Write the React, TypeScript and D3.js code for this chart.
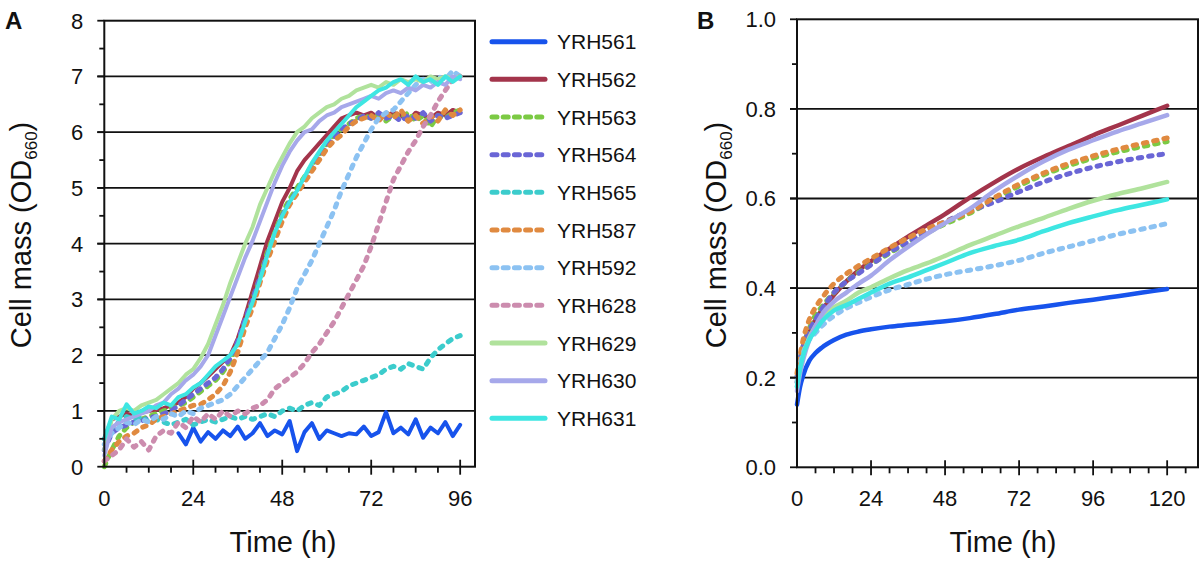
import React, { useEffect, useRef } from 'react';
import * as d3 from 'd3';

const FONT = "'Liberation Sans', Arial, sans-serif";

const strains = ['YRH561', 'YRH562', 'YRH563', 'YRH564', 'YRH565', 'YRH587', 'YRH592', 'YRH628', 'YRH629', 'YRH630', 'YRH631'];
const strainColors = ['#1753ec', '#a3344b', '#7cca44', '#6a66d6', '#3ccccc', '#e08a40', '#8cc2f2', '#cc8cae', '#b0e29c', '#a6a8ea', '#3ee6e2'];
const strainDashed = [false, false, true, true, true, true, true, true, false, false, false];

// panel A: 96 h culture, sampled every 2 h
const hoursA = [0, 2, 4, 6, 8, 10, 12, 14, 16, 18, 20, 22, 24, 26, 28, 30, 32, 34, 36, 38, 40, 42, 44, 46, 48,
  50, 52, 54, 56, 58, 60, 62, 64, 66, 68, 70, 72, 74, 76, 78, 80, 82, 84, 86, 88, 90, 92, 94, 96];

const odA561 = [null, null, null, null, null, null, null, null, null, null, 0.6, 0.4, 0.7, 0.45, 0.62, 0.5, 0.65, 0.55, 0.72, 0.5, 0.6, 0.78, 0.55, 0.65, 0.58,
  0.82, 0.28, 0.62, 0.78, 0.5, 0.65, 0.6, 0.55, 0.6, 0.58, 0.72, 0.55, 0.62, 0.98, 0.6, 0.7, 0.58, 0.85, 0.52, 0.7, 0.6, 0.8, 0.55, 0.75];
const odA562 = [0.5, 0.85, 0.9, 0.95, 0.92, 0.97, 1.0, 1.02, 1.05, 1.1, 1.15, 1.25, 1.4, 1.5, 1.62, 1.75, 1.88, 2.0, 2.3, 2.7, 3.15, 3.6, 4.05, 4.4, 4.75,
  5.0, 5.3, 5.5, 5.65, 5.8, 5.95, 6.1, 6.25, 6.3, 6.35, 6.3, 6.35, 6.25, 6.3, 6.35, 6.3, 6.2, 6.35, 6.3, 6.25, 6.35, 6.3, 6.4, 6.35];
const odA563 = [0.0, 0.3, 0.55, 0.7, 0.8, 0.85, 0.9, 0.95, 1.0, 1.05, 1.1, 1.15, 1.25, 1.35, 1.45, 1.55, 1.7, 1.9, 2.2, 2.6, 3.0, 3.4, 3.85, 4.2, 4.55,
  4.8, 5.0, 5.2, 5.4, 5.6, 5.8, 5.95, 6.05, 6.15, 6.25, 6.3, 6.25, 6.3, 6.2, 6.3, 6.25, 6.35, 6.2, 6.3, 6.1, 6.3, 6.25, 6.35, 6.4];
const odA564 = [0.3, 0.6, 0.7, 0.75, 0.8, 0.82, 0.88, 0.9, 0.95, 1.0, 1.1, 1.2, 1.3, 1.4, 1.5, 1.6, 1.75, 1.95, 2.25, 2.65, 3.0, 3.4, 3.8, 4.15, 4.5,
  4.75, 4.95, 5.15, 5.35, 5.55, 5.75, 5.9, 6.05, 6.15, 6.2, 6.3, 6.25, 6.35, 6.25, 6.3, 6.2, 6.3, 6.25, 6.35, 6.2, 6.3, 6.25, 6.3, 6.35];
const odA565 = [0.5, 0.7, 0.8, 0.9, 0.85, 0.9, 0.8, 0.85, 0.8, 0.75, 0.8, 0.85, 0.75, 0.8, 0.85, 0.8, 0.85, 0.9, 0.85, 0.9, 0.85, 0.9, 0.95, 0.9, 1.0,
  1.05, 1.0, 1.1, 1.15, 1.1, 1.25, 1.3, 1.35, 1.45, 1.5, 1.55, 1.6, 1.65, 1.75, 1.8, 1.75, 1.85, 1.8, 1.75, 1.95, 2.1, 2.2, 2.3, 2.35];
const odA587 = [0.1, 0.3, 0.45, 0.55, 0.6, 0.7, 0.75, 0.85, 0.9, 0.95, 1.0, 1.05, 1.1, 1.12, 1.2, 1.3, 1.45, 1.7, 2.05, 2.5, 2.85, 3.3, 3.7, 4.05, 4.4,
  4.7, 4.9, 5.1, 5.3, 5.5, 5.7, 5.85, 5.95, 6.1, 6.2, 6.25, 6.3, 6.2, 6.35, 6.25, 6.4, 6.2, 6.3, 6.15, 6.3, 6.2, 6.4, 6.3, 6.4];
const odA592 = [0.4, 0.6, 0.7, 0.8, 0.75, 0.85, 0.8, 0.9, 0.85, 0.95, 0.9, 1.0, 0.95, 1.05, 1.1, 1.15, 1.2, 1.3, 1.45, 1.6, 1.75, 1.9, 2.05, 2.3, 2.55,
  2.85, 3.2, 3.45, 3.7, 4.0, 4.3, 4.6, 4.95, 5.25, 5.55, 5.8, 6.05, 6.25, 6.35, 6.4, 6.55, 6.7, 6.85, 6.95, 6.9, 7.0, 6.95, 7.1, 7.0];
const odA628 = [0.1, 0.2, 0.3, 0.5, 0.35, 0.45, 0.3, 0.55, 0.65, 0.6, 0.8, 0.7, 0.9, 0.8, 0.95, 0.85, 1.0, 0.9, 1.0, 0.95, 1.05, 1.1, 1.2, 1.4, 1.5,
  1.6, 1.7, 1.85, 2.05, 2.2, 2.4, 2.6, 2.85, 3.1, 3.35, 3.6, 3.95, 4.35, 4.75, 5.15, 5.4, 5.65, 5.85, 6.1, 6.3, 6.55, 6.75, 6.95, 7.0];
const odA629 = [0.3, 0.85, 1.0, 1.05, 1.0, 1.1, 1.15, 1.2, 1.3, 1.4, 1.5, 1.65, 1.75, 1.95, 2.2, 2.55, 2.9, 3.3, 3.65, 4.0, 4.3, 4.7, 5.0, 5.3, 5.55,
  5.8, 6.0, 6.1, 6.25, 6.35, 6.45, 6.5, 6.6, 6.65, 6.75, 6.8, 6.85, 6.8, 6.9, 6.85, 6.95, 6.9, 6.95, 6.9, 7.0, 6.95, 7.0, 6.95, 7.0];
const odA630 = [0.2, 0.7, 0.8, 0.85, 0.9, 0.95, 1.0, 1.1, 1.15, 1.3, 1.4, 1.55, 1.65, 1.8, 2.0, 2.35, 2.7, 3.05, 3.4, 3.75, 4.05, 4.4, 4.75, 5.1, 5.4,
  5.65, 5.85, 6.0, 6.05, 6.2, 6.3, 6.35, 6.45, 6.5, 6.55, 6.6, 6.65, 6.6, 6.7, 6.75, 6.7, 6.8, 6.75, 6.85, 6.8, 6.9, 6.85, 7.0, 6.95];
const odA631 = [0.5, 0.9, 0.85, 1.12, 0.95, 1.0, 1.08, 1.05, 1.15, 1.1, 1.25, 1.3, 1.42, 1.5, 1.65, 1.8, 1.9, 2.0, 2.2, 2.6, 2.95, 3.35, 3.8, 4.2, 4.5,
  4.75, 4.95, 5.2, 5.45, 5.65, 5.85, 6.0, 6.15, 6.3, 6.45, 6.55, 6.65, 6.75, 6.8, 6.9, 6.95, 6.85, 7.0, 6.9, 6.95, 6.85, 7.0, 6.9, 7.0];

// panel B: 120 h culture
const hoursB = [0, 1, 2, 4, 6, 8, 12, 16, 20, 24, 30, 36, 42, 48, 56, 64, 72, 80, 88, 96, 104, 112, 120];

const odB561 = [0.14, 0.18, 0.205, 0.238, 0.255, 0.267, 0.284, 0.296, 0.303, 0.308, 0.314, 0.318, 0.322, 0.326, 0.333, 0.342, 0.352, 0.359, 0.367, 0.374, 0.382, 0.39, 0.398];
const odB562 = [0.19, 0.23, 0.26, 0.3, 0.33, 0.35, 0.385, 0.415, 0.44, 0.46, 0.488, 0.515, 0.54, 0.565, 0.602, 0.636, 0.667, 0.693, 0.717, 0.741, 0.763, 0.785, 0.807];
const odB563 = [0.2, 0.24, 0.27, 0.31, 0.34, 0.358, 0.39, 0.415, 0.435, 0.453, 0.478, 0.502, 0.523, 0.543, 0.567, 0.598, 0.628, 0.653, 0.673, 0.69, 0.704, 0.716, 0.727];
const odB564 = [0.2, 0.24, 0.27, 0.305, 0.33, 0.352, 0.39, 0.415, 0.433, 0.452, 0.48, 0.503, 0.527, 0.548, 0.572, 0.592, 0.615, 0.637, 0.655, 0.67, 0.682, 0.692, 0.7];
const odB587 = [0.21, 0.25, 0.285, 0.33, 0.357, 0.377, 0.41, 0.432, 0.45, 0.466, 0.49, 0.512, 0.532, 0.548, 0.57, 0.602, 0.632, 0.657, 0.678, 0.695, 0.71, 0.723, 0.735];
const odB592 = [0.19, 0.23, 0.255, 0.285, 0.3, 0.315, 0.338, 0.355, 0.368, 0.38, 0.396, 0.408, 0.42, 0.43, 0.44, 0.45, 0.462, 0.478, 0.492, 0.506, 0.52, 0.532, 0.544];
const odB629 = [0.18, 0.22, 0.25, 0.29, 0.315, 0.335, 0.357, 0.372, 0.39, 0.402, 0.422, 0.44, 0.455, 0.472, 0.496, 0.517, 0.538, 0.557, 0.577, 0.595, 0.61, 0.623, 0.637];
const odB630 = [0.17, 0.21, 0.24, 0.285, 0.315, 0.34, 0.37, 0.39, 0.41, 0.428, 0.462, 0.492, 0.52, 0.545, 0.577, 0.617, 0.652, 0.683, 0.709, 0.73, 0.75, 0.768, 0.786];
const odB631 = [0.18, 0.22, 0.25, 0.285, 0.305, 0.325, 0.35, 0.362, 0.376, 0.39, 0.41, 0.424, 0.44, 0.456, 0.478, 0.494, 0.508, 0.527, 0.545, 0.56, 0.574, 0.586, 0.598];

const seriesA = [odA561, odA562, odA563, odA564, odA565, odA587, odA592, odA628, odA629, odA630, odA631];
const seriesB = [odB561, odB562, odB563, odB564, null, odB587, odB592, null, odB629, odB630, odB631];

const yTicksA = [0, 1, 2, 3, 4, 5, 6, 7, 8];
const yTicksB = [0, 0.2, 0.4, 0.6, 0.8, 1.0];
const xTicksA = [0, 24, 48, 72, 96];
const xTicksB = [0, 24, 48, 72, 96, 120];

const W = 1200;
const H = 563;

interface PanelOpts {
  letter: string;
  letterX: number;
  left: number;
  right: number;
  top: number;
  bottom: number;
  xMax: number;
  yMax: number;
  hours: number[];
  series: (Array<number | null> | null)[];
  yTicks: number[];
  yMinorStep: number;
  yFmt: (v: number) => string;
  xTicks: number[];
  xMinorMax: number;
  curve: d3.CurveFactory;
  solidW: number;
  dashW: number;
  titleX: number;
  yTitleX: number;
}

function drawPanel(svg: d3.Selection<SVGSVGElement, unknown, null, undefined>, o: PanelOpts) {
  const g = svg.append('g');
  const x = d3.scaleLinear().domain([0, o.xMax]).range([o.left, o.right]);
  const y = d3.scaleLinear().domain([0, o.yMax]).range([o.bottom, o.top]);

  // grid lines at major ticks
  o.yTicks.filter(v => v > 0 && v < o.yMax).forEach(v => {
    g.append('line').attr('x1', o.left - 7).attr('x2', o.right)
      .attr('y1', y(v)).attr('y2', y(v)).attr('stroke', '#111').attr('stroke-width', 1.8);
  });

  // series
  o.series.forEach((vals, i) => {
    if (!vals) return;
    const pts = o.hours.map((h, k) => ({ h, v: vals[k] }));
    const line = d3.line<{ h: number; v: number | null }>()
      .defined(d => d.v != null)
      .x(d => x(d.h)).y(d => y(d.v as number))
      .curve(o.curve);
    g.append('path').attr('d', line(pts) || '')
      .attr('fill', 'none')
      .attr('stroke', strainColors[i])
      .attr('stroke-width', strainDashed[i] ? o.dashW : o.solidW)
      .attr('stroke-linecap', 'round')
      .attr('stroke-linejoin', 'round')
      .attr('stroke-dasharray', strainDashed[i] ? '3.5,7' : null);
  });

  // frame
  g.append('rect').attr('x', o.left).attr('y', o.top)
    .attr('width', o.right - o.left).attr('height', o.bottom - o.top)
    .attr('fill', 'none').attr('stroke', '#111').attr('stroke-width', 2);

  // y ticks
  const minorY = d3.range(0, o.yMax + 1e-9, o.yMinorStep);
  minorY.forEach(v => {
    const major = o.yTicks.some(t => Math.abs(t - v) < 1e-6);
    g.append('line').attr('x1', o.left - (major ? 7 : 5)).attr('x2', o.left)
      .attr('y1', y(v)).attr('y2', y(v)).attr('stroke', '#111').attr('stroke-width', 1.8);
  });
  o.yTicks.forEach(v => {
    g.append('text').attr('x', o.left - 21).attr('y', y(v)).attr('dy', '0.36em')
      .attr('text-anchor', 'end').attr('font-family', FONT).attr('font-size', 22)
      .attr('fill', '#111').text(o.yFmt(v));
  });

  // x ticks
  d3.range(6, o.xMinorMax + 1e-9, 6).forEach(h => {
    if (o.xTicks.includes(h)) return;
    g.append('line').attr('x1', x(h)).attr('x2', x(h))
      .attr('y1', o.bottom).attr('y2', o.bottom + 6).attr('stroke', '#111').attr('stroke-width', 1.8);
  });
  o.xTicks.forEach(h => {
    if (h > 0) {
      g.append('line').attr('x1', x(h)).attr('x2', x(h))
        .attr('y1', o.bottom - 7).attr('y2', o.bottom + 8).attr('stroke', '#111').attr('stroke-width', 1.8);
    }
    g.append('text').attr('x', x(h)).attr('y', 506)
      .attr('text-anchor', 'middle').attr('font-family', FONT).attr('font-size', 22)
      .attr('fill', '#111').text(String(h));
  });

  // axis titles
  g.append('text').attr('x', o.titleX).attr('y', 552).attr('text-anchor', 'middle')
    .attr('font-family', FONT).attr('font-size', 29).attr('fill', '#111').text('Time (h)');

  const yt = g.append('text')
    .attr('transform', `translate(${o.yTitleX},235) rotate(-90)`)
    .attr('text-anchor', 'middle').attr('font-family', FONT).attr('font-size', 29).attr('fill', '#111');
  yt.append('tspan').text('Cell mass (OD');
  yt.append('tspan').attr('font-size', 17).attr('dy', 6).text('660');
  yt.append('tspan').attr('dy', -6).text(')');

  g.append('text').attr('x', o.letterX).attr('y', 29)
    .attr('font-family', FONT).attr('font-size', 24).attr('font-weight', 700)
    .attr('fill', '#111').text(o.letter);
}

export default function App() {
  const svgRef = useRef<SVGSVGElement>(null);

  useEffect(() => {
    document.body.style.margin = '0';
    if (!svgRef.current) return;
    const svg = d3.select(svgRef.current);
    svg.selectAll('*').remove();
    svg.append('rect').attr('width', W).attr('height', H).attr('fill', '#fff');

    drawPanel(svg, {
      letter: 'A', letterX: 5,
      left: 104.3, right: 475, top: 20.7, bottom: 466.7,
      xMax: 100, yMax: 8, hours: hoursA, series: seriesA,
      yTicks: yTicksA, yMinorStep: 0.5, yFmt: v => String(v),
      xTicks: xTicksA, xMinorMax: 96, curve: d3.curveLinear,
      solidW: 4, dashW: 5,
      titleX: 283, yTitleX: 31,
    });

    drawPanel(svg, {
      letter: 'B', letterX: 697,
      left: 797, right: 1198, top: 19.3, bottom: 467.3,
      xMax: 130, yMax: 1.0, hours: hoursB, series: seriesB,
      yTicks: yTicksB, yMinorStep: 0.1, yFmt: v => v.toFixed(1),
      xTicks: xTicksB, xMinorMax: 126, curve: d3.curveMonotoneX,
      solidW: 4.5, dashW: 5,
      titleX: 1003, yTitleX: 726,
    });

    // legend
    const lg = svg.append('g');
    const rowY = d3.scaleLinear().domain([0, strains.length - 1]).range([41.7, 418.3]);
    strains.forEach((s, i) => {
      const yy = rowY(i);
      lg.append('line').attr('x1', 492).attr('x2', 545).attr('y1', yy).attr('y2', yy)
        .attr('stroke', strainColors[i]).attr('stroke-width', 5)
        .attr('stroke-linecap', 'round')
        .attr('stroke-dasharray', strainDashed[i] ? '5,6.2' : null);
      lg.append('text').attr('x', 557).attr('y', yy).attr('dy', '0.36em')
        .attr('font-family', FONT).attr('font-size', 21).attr('fill', '#111').text(s);
    });
  }, []);

  return <svg ref={svgRef} width={W} height={H} style={{ display: 'block' }} />;
}
